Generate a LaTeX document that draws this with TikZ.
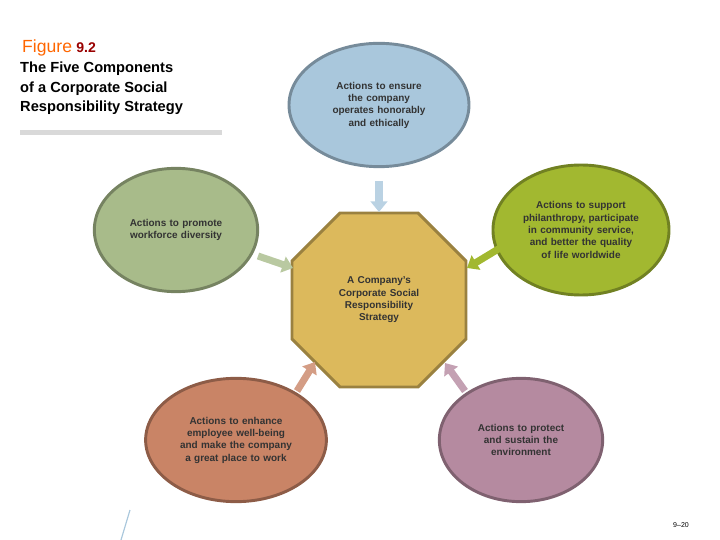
\documentclass[tikz,border=0pt]{standalone}
\usepackage{fontspec}
\setmainfont{Liberation Sans}
\usepackage{xcolor}
\usetikzlibrary{shapes.geometric,arrows.meta}
\definecolor{topblue}{HTML}{A9C7DC}
\definecolor{leftgreen}{HTML}{A8BB8A}
\definecolor{rightolive}{HTML}{A2B830}
\definecolor{blsalmon}{HTML}{C98466}
\definecolor{brmauve}{HTML}{B58AA0}
\definecolor{octgold}{HTML}{DCB95C}
\tikzset{
  nohyph/.style={execute at begin node={\hyphenpenalty=10000\exhyphenpenalty=10000\relax}},
  comp/.style={ellipse, draw=#1!70!black, line width=2.5pt, fill=#1, text width=3.6cm, align=center,
    font=\bfseries\fontsize{8.5}{10.5}\selectfont, nohyph, text=black!80},
  fat/.style={line width=6pt, color=#1, -{Triangle[width=14pt,length=9pt]}}
}
\begin{document}
\begin{tikzpicture}[x=0.03cm,y=-0.03cm]
            \useasboundingbox (0,0) rectangle (720,540);
            % title block
            \node[anchor=base west, inner sep=0, text=orange!80!red, font=\fontsize{15}{18}\selectfont] (fig) at (22,53) {Figure};
            \node[anchor=base west, inner sep=0, text=red!60!black, font=\bfseries\fontsize{12}{14}\selectfont] (num) at (fig.base east) {\ 9.2};
            \node[anchor=north west, inner sep=0, align=left, font=\bfseries\fontsize{12.5}{16.5}\selectfont] (title) at (20,62)
              {The Five Components\\of a Corporate Social\\Responsibility Strategy};
            \fill[black!15] (20,130) rectangle (222,135);

            % components
            \node[comp=topblue, text width=3.3cm, minimum width=5.4cm, minimum height=3.7cm] (ethic) at (379,105)
              {Actions to ensure the company operates honorably and ethically};
            \node[comp=leftgreen, text width=3cm, minimum width=4.9cm, minimum height=3.7cm] (divers) at (176,230)
              {Actions to promote workforce diversity};
            \node[comp=rightolive, text width=3.5cm, minimum width=4.8cm, minimum height=3.9cm] (phil) at (581,230)
              {Actions to support philanthropy, participate in community service, and better the quality of life worldwide};
            \node[comp=blsalmon, minimum width=4.9cm, minimum height=3.7cm] (employ) at (236,440)
              {Actions to enhance employee well-being and make the company a great place to work};
            \node[comp=brmauve, text width=3cm, minimum width=4.9cm, minimum height=3.7cm] (envir) at (521,440)
              {Actions to protect and sustain the environment};

            % centre
            \draw[draw=octgold!70!black, line width=2.5pt, fill=octgold]
              (340,213) -- (418,213) -- (466,261) -- (466,339) -- (418,387) -- (340,387) -- (292,339) -- (292,261) -- cycle;
            \node[text width=2.8cm, align=center, font=\bfseries\fontsize{8.5}{10.5}\selectfont, nohyph,
              text=black!80] (csr) at (379,300)
              {A Company's Corporate Social Responsibility Strategy};

            % arrows
            \draw[fat=topblue!80!white] (379,181) coordinate (a1) -- (379,212);
            \draw[fat=leftgreen!80!white] (258,256) coordinate (a2) -- (293,268);
            \draw[fat=rightolive] (500,248) coordinate (a3) -- (467,268);
            \draw[fat=blsalmon!80!white] (297,391) coordinate (a4) -- (315,362);
            \draw[fat=brmauve!80!white] (465,391) coordinate (a5) -- (445,363);

            % footer
            \draw[topblue, line width=1pt] (130,510) -- (121,540);
            \node[font=\fontsize{6}{7}\selectfont] (page) at (681,525) {9–20};
        \end{tikzpicture}
\end{document}
